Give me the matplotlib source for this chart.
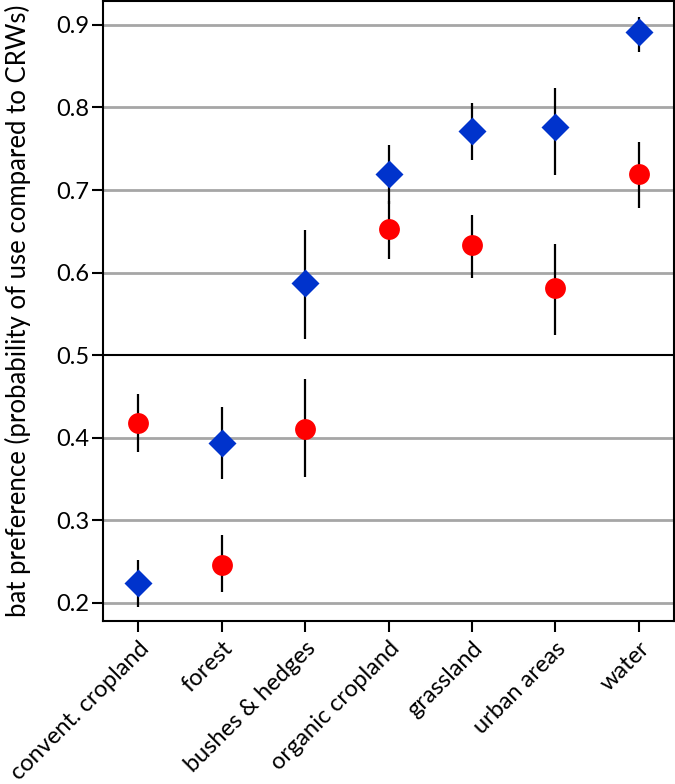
import matplotlib
matplotlib.use("Agg")
import matplotlib.pyplot as plt
import numpy as np

categories = ["convent. cropland", "forest", "bushes & hedges", "organic cropland",
              "grassland", "urban areas", "water"]

blue_y    = [0.224, 0.394, 0.587, 0.720, 0.772, 0.776, 0.891]
blue_low  = [0.195, 0.350, 0.520, 0.683, 0.736, 0.718, 0.867]
blue_high = [0.252, 0.437, 0.652, 0.755, 0.806, 0.824, 0.910]

red_y     = [0.418, 0.246, 0.411, 0.653, 0.633, 0.581, 0.720]
red_low   = [0.383, 0.213, 0.353, 0.616, 0.593, 0.525, 0.678]
red_high  = [0.453, 0.282, 0.471, 0.687, 0.670, 0.635, 0.758]

yticks = [0.2, 0.3, 0.4, 0.5, 0.6, 0.7, 0.8, 0.9]

plt.rcParams['font.family'] = ['Lato', 'DejaVu Sans']

fig = plt.figure(figsize=(6.75, 7.84), dpi=100)
ax = fig.add_axes([103/675, 1 - 621/784, (674-103)/675, 620/784])

x = np.arange(len(categories))
ax.vlines(x, blue_low, blue_high, color='black', lw=1.6, zorder=3)
ax.vlines(x, red_low, red_high, color='black', lw=1.6, zorder=3)
ax.plot(x, blue_y, 'D', color='#0033CC', ms=14.5, mec='none', zorder=4)
ax.plot(x, red_y, 'o', color='#FF0000', ms=15, mec='none', zorder=4)

for t in yticks:
    if t == 0.5:
        ax.axhline(t, color='black', lw=1.5, zorder=2)
    else:
        ax.axhline(t, color='#A6A6A6', lw=2, zorder=1)

ax.set_xlim(-0.42, 6.42)
ax.set_ylim(0.178, 0.929)
ax.set_yticks(yticks)
ax.set_yticklabels([f"{t:.1f}" for t in yticks])
ax.set_xticks(x)
ax.set_xticklabels(categories, rotation=45, ha='right', rotation_mode='anchor')
ax.tick_params(axis='both', direction='out', length=8, width=1.5, labelsize=17, colors='black')
ax.tick_params(axis='y', pad=2)
ax.tick_params(axis='x', pad=4)
for s in ax.spines.values():
    s.set_linewidth(1.5)
    s.set_color('black')
ax.set_ylabel("bat preference (probability of use compared to CRWs)", fontsize=18.5, labelpad=18)

fig.savefig("out.png", dpi=100)
